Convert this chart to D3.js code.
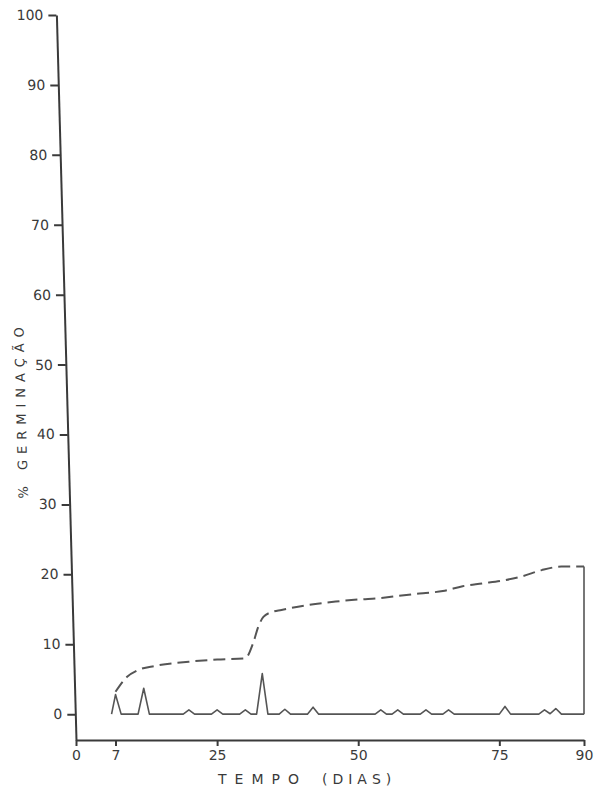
<!DOCTYPE html>
<html>
<head>
<meta charset="utf-8">
<script src="https://cdn.jsdelivr.net/npm/d3@7"></script>
<style>
  body { margin: 0; background: #fff; }
  text { font-family: "DejaVu Sans", sans-serif; fill: #3a3a3a; }
</style>
</head>
<body>
<div id="chart"></div>
<script>
// tick labels
const xTicks = [0, 7, 25, 50, 75, 90];
const yTicks = [0, 10, 20, 30, 40, 50, 60, 70, 80, 90, 100];

// daily germination (solid line)
const dailyDays   = [6.3, 7, 8, 11, 12, 13, 19, 20, 21, 24, 25, 26, 29, 30, 31, 32, 33, 34, 36, 37, 38, 41, 42, 43, 53, 54, 55, 56, 57, 58, 61, 62, 63, 65, 66, 67, 75, 76, 77, 82, 83, 84, 85, 86, 90];
const dailyValues = [0, 2.8, 0, 0, 3.7, 0, 0, 0.6, 0, 0, 0.6, 0, 0, 0.6, 0, 0, 5.8, 0, 0, 0.7, 0, 0, 1.0, 0, 0, 0.6, 0, 0, 0.6, 0, 0, 0.6, 0, 0, 0.6, 0, 0, 1.1, 0, 0, 0.6, 0.05, 0.8, 0, 0];

// accumulated germination (dashed line)
const cumDays   = [7, 9, 11, 14, 20, 25, 30, 31.4, 32.3, 33.2, 34.7, 36.4, 41, 46, 50, 54, 57, 61.5, 65, 68.5, 72, 75.5, 79, 82.5, 86, 90];
const cumValues = [3.2, 5.3, 6.3, 6.9, 7.5, 7.8, 8.0, 10.2, 12.5, 13.9, 14.6, 14.9, 15.6, 16.1, 16.4, 16.6, 16.9, 17.3, 17.6, 18.3, 18.7, 19.1, 19.7, 20.6, 21.1, 21.1];

const W = 595, H = 789;
const svg = d3.select("#chart").append("svg")
  .attr("width", W)
  .attr("height", H);

const x = d3.scaleLinear().domain([0, 90]).range([76, 584]);
const y = d3.scaleLinear().domain([-3.7, 100]).range([740, 15]);

const ink = "#3a3a3a";

// x axis
const xAxis = svg.append("g")
  .attr("transform", "translate(0,740)")
  .call(d3.axisBottom(x).tickValues(xTicks).tickSize(6).tickSizeOuter(0).tickPadding(4));
xAxis.select(".domain").attr("stroke", ink).attr("stroke-width", 2);
xAxis.selectAll(".tick line").attr("stroke", ink).attr("stroke-width", 2);
xAxis.selectAll(".tick text").style("font-size", "14px").attr("fill", ink);

// y axis (scan is slightly tilted, so the axis leans)
const yAxis = svg.append("g")
  .attr("transform", "translate(0,740) skewX(1.55) translate(76,-740)")
  .call(d3.axisLeft(y).tickValues(yTicks).tickSize(8).tickSizeOuter(0).tickPadding(5));
yAxis.select(".domain").attr("stroke", ink).attr("stroke-width", 2);
yAxis.selectAll(".tick line").attr("stroke", ink).attr("stroke-width", 2);
yAxis.selectAll(".tick text").style("font-size", "14px").attr("fill", ink);

// y axis title
yAxis.append("text")
  .attr("transform", "translate(-46,410) rotate(-90)")
  .attr("text-anchor", "middle")
  .attr("dy", "0.35em")
  .style("font-size", "13px")
  .style("letter-spacing", "6px")
  .text("% GERMINAÇÃO");

// x axis title
svg.append("text")
  .attr("x", 218).attr("y", 784)
  .style("font-size", "14px")
  .style("letter-spacing", "8px")
  .text("TEMPO");
svg.append("text")
  .attr("x", 322).attr("y", 784)
  .style("font-size", "14px")
  .style("letter-spacing", "5px")
  .text("(DIAS)");

// daily line
const daily = dailyDays.map((d, i) => [d, dailyValues[i]]);
svg.append("path")
  .datum(daily)
  .attr("fill", "none")
  .attr("stroke", "#555")
  .attr("stroke-width", 1.6)
  .attr("stroke-linejoin", "round")
  .attr("d", d3.line().x(d => x(d[0])).y(d => y(d[1])));

// accumulated line
const cum = cumDays.map((d, i) => [d, cumValues[i]]);
svg.append("path")
  .datum(cum)
  .attr("fill", "none")
  .attr("stroke", "#555")
  .attr("stroke-width", 2)
  .attr("stroke-dasharray", "12,6")
  .attr("d", d3.line().curve(d3.curveMonotoneX).x(d => x(d[0])).y(d => y(d[1])));

// closing vertical at the last day
const lastD = daily[daily.length - 1], lastC = cum[cum.length - 1];
svg.append("line")
  .attr("x1", x(lastD[0])).attr("y1", y(lastD[1]))
  .attr("x2", x(lastC[0])).attr("y2", y(lastC[1]))
  .attr("stroke", "#555")
  .attr("stroke-width", 1.6);
</script>
</body>
</html>
